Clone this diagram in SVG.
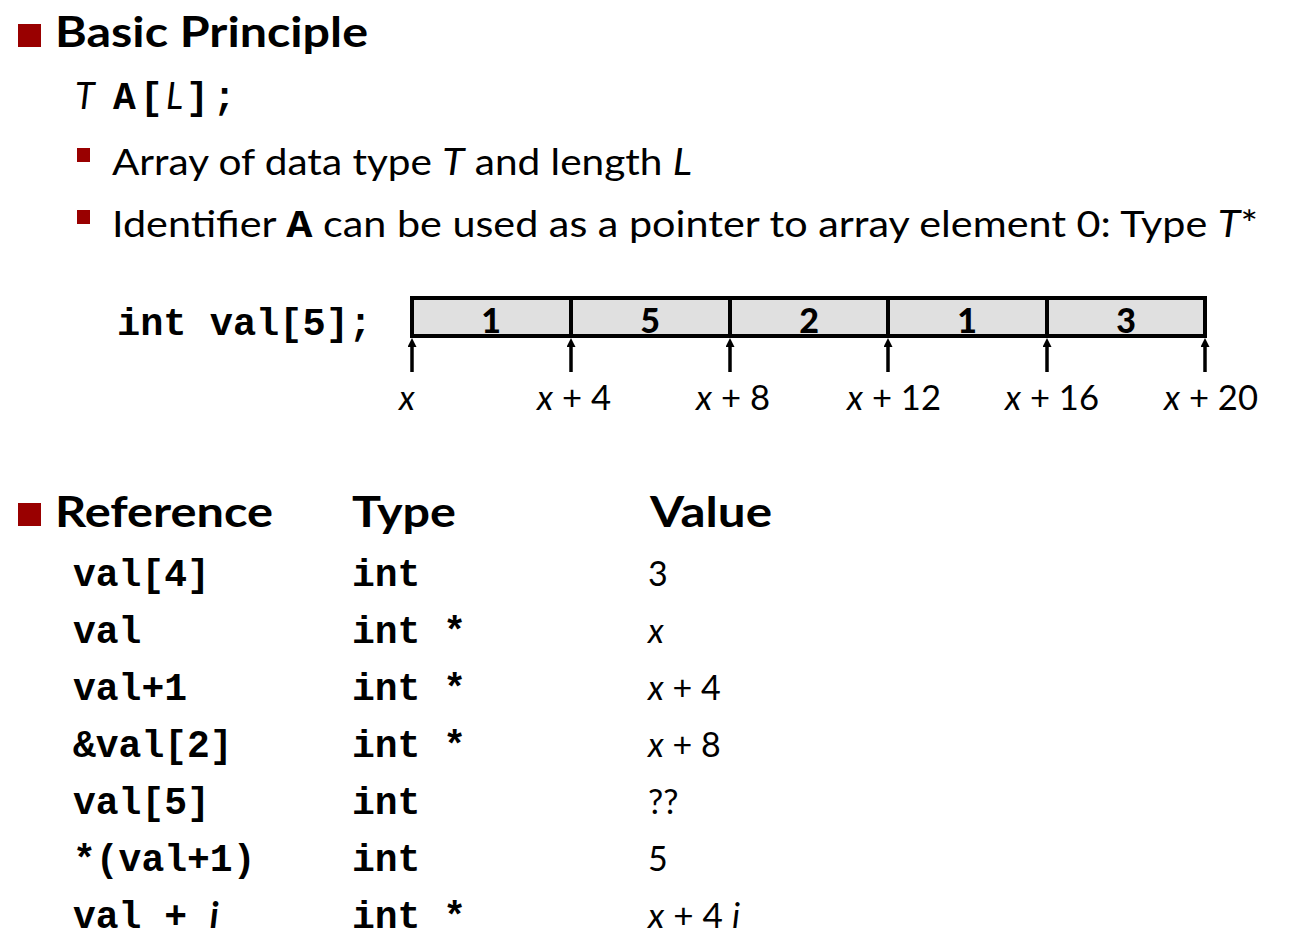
<svg xmlns="http://www.w3.org/2000/svg" width="1302" height="944" viewBox="0 0 1302 944">
<style>
.head{font-family:Lato,"Open Sans","Liberation Sans",sans-serif;font-weight:bold;font-size:42px;fill:#000}
.body{font-family:Lato,"Open Sans","Liberation Sans",sans-serif;font-size:36px;fill:#000}
.lbl{font-family:Lato,"Open Sans","Liberation Sans",sans-serif;font-size:34px;fill:#000}
.num{font-family:Lato,"Open Sans","Liberation Sans",sans-serif;font-weight:900;font-size:34px;fill:#000;text-anchor:middle}
.mono{font-family:"Liberation Mono","Courier New",monospace;font-weight:bold;font-size:38px;fill:#000}
.it{font-style:italic}
.bul{fill:#990000}
.cell{fill:#e0e0e0;stroke:#000;stroke-width:4}
.ptr{stroke:#000;stroke-width:3.5;fill:none}
</style>
<defs>
<marker id="ah" viewBox="0 0 10 10" refX="0" refY="5" markerWidth="9" markerHeight="9" markerUnits="userSpaceOnUse" orient="auto">
<path d="M0,0 L10,5 L0,10 Z" fill="#000"/>
</marker>
</defs>

<g id="heading-basic">
<rect class="bul" x="18" y="24" width="23" height="23"/>
<text class="head" x="55" y="47" textLength="313" lengthAdjust="spacingAndGlyphs">Basic Principle</text>
</g>

<g id="decl">
<text class="body it" x="75" y="109">T</text>
<text class="mono" x="113" y="109">A</text>
<text class="mono" x="140" y="109">[</text>
<text class="body it" x="166" y="109">L</text>
<text class="mono" x="186" y="109">]</text>
<text class="mono" x="213" y="109">;</text>
</g>

<g id="bullet1">
<rect class="bul" x="77" y="148" width="13" height="14"/>
<text class="body" x="112" y="175" textLength="580" lengthAdjust="spacingAndGlyphs">Array of data type <tspan class="it">T</tspan> and length <tspan class="it">L</tspan></text>
</g>

<g id="bullet2">
<rect class="bul" x="77" y="210" width="13" height="14"/>
<text class="body" x="112" y="237" textLength="1146" lengthAdjust="spacingAndGlyphs">Identifier <tspan class="mono" font-size="36">A</tspan> can be used as a pointer to array element 0: Type <tspan class="it">T</tspan>*</text>
</g>

<g id="array-decl">
<text class="mono" x="117" y="335" textLength="255" lengthAdjust="spacingAndGlyphs">int val[5];</text>
</g>

<g id="array">
<rect class="cell" x="412" y="298" width="159" height="38"/>
<rect class="cell" x="571" y="298" width="159" height="38"/>
<rect class="cell" x="730" y="298" width="158" height="38"/>
<rect class="cell" x="888" y="298" width="159" height="38"/>
<rect class="cell" x="1047" y="298" width="158" height="38"/>
<text class="num" x="491" y="333">1</text>
<text class="num" x="650" y="333">5</text>
<text class="num" x="809" y="333">2</text>
<text class="num" x="967" y="333">1</text>
<text class="num" x="1126" y="333">3</text>
</g>

<g id="pointers">
<line class="ptr" x1="412" y1="372" x2="412" y2="347" marker-end="url(#ah)"/>
<line class="ptr" x1="571" y1="372" x2="571" y2="347" marker-end="url(#ah)"/>
<line class="ptr" x1="730" y1="372" x2="730" y2="347" marker-end="url(#ah)"/>
<line class="ptr" x1="888" y1="372" x2="888" y2="347" marker-end="url(#ah)"/>
<line class="ptr" x1="1047" y1="372" x2="1047" y2="347" marker-end="url(#ah)"/>
<line class="ptr" x1="1205" y1="372" x2="1205" y2="347" marker-end="url(#ah)"/>
</g>

<g id="addr-labels">
<text class="lbl it" x="399" y="410">x</text>
<text class="lbl" x="537" y="410" textLength="74" lengthAdjust="spacingAndGlyphs"><tspan class="it">x</tspan> + 4</text>
<text class="lbl" x="696" y="410" textLength="74" lengthAdjust="spacingAndGlyphs"><tspan class="it">x</tspan> + 8</text>
<text class="lbl" x="847" y="410" textLength="94" lengthAdjust="spacingAndGlyphs"><tspan class="it">x</tspan> + 12</text>
<text class="lbl" x="1005" y="410" textLength="94" lengthAdjust="spacingAndGlyphs"><tspan class="it">x</tspan> + 16</text>
<text class="lbl" x="1164" y="410" textLength="94" lengthAdjust="spacingAndGlyphs"><tspan class="it">x</tspan> + 20</text>
</g>

<g id="heading-table">
<rect class="bul" x="18" y="503" width="23" height="23"/>
<text class="head" x="55" y="527" textLength="218" lengthAdjust="spacingAndGlyphs">Reference</text>
<text class="head" x="352" y="527" textLength="104" lengthAdjust="spacingAndGlyphs">Type</text>
<text class="head" x="650" y="527" textLength="122" lengthAdjust="spacingAndGlyphs">Value</text>
</g>

<g id="table">
<text class="mono" x="73" y="586">val[4]</text>
<text class="mono" x="352" y="586">int</text>
<text class="lbl" x="648" y="586">3</text>

<text class="mono" x="73" y="643">val</text>
<text class="mono" x="352" y="643">int *</text>
<text class="lbl it" x="648" y="643">x</text>

<text class="mono" x="73" y="700">val+1</text>
<text class="mono" x="352" y="700">int *</text>
<text class="lbl" x="648" y="700"><tspan class="it">x</tspan> + 4</text>

<text class="mono" x="73" y="757">&amp;val[2]</text>
<text class="mono" x="352" y="757">int *</text>
<text class="lbl" x="648" y="757"><tspan class="it">x</tspan> + 8</text>

<text class="mono" x="73" y="814">val[5]</text>
<text class="mono" x="352" y="814">int</text>
<text class="lbl" x="648" y="814">??</text>

<text class="mono" x="73" y="871">*(val+1)</text>
<text class="mono" x="352" y="871">int</text>
<text class="lbl" x="648" y="871">5</text>

<text class="mono" x="73" y="928">val + <tspan class="body it" font-weight="bold">i</tspan></text>
<text class="mono" x="352" y="928">int *</text>
<text class="lbl" x="648" y="928" textLength="92" lengthAdjust="spacingAndGlyphs"><tspan class="it">x</tspan> + 4 <tspan class="it">i</tspan></text>
</g>
</svg>
